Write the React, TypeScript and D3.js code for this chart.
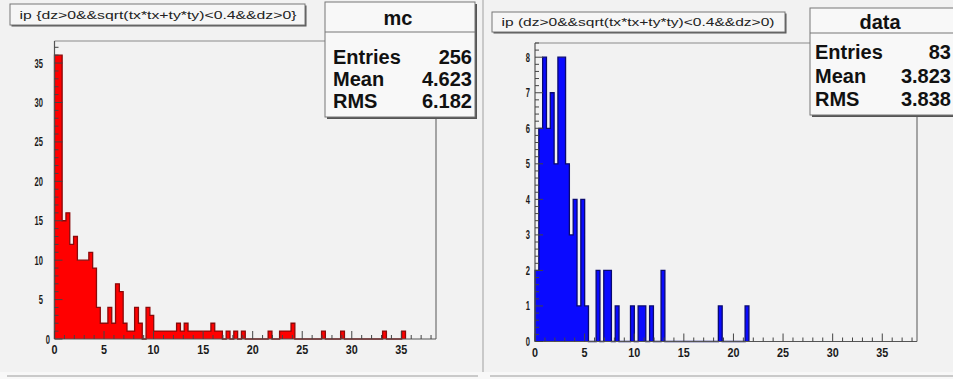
import React from "react";
import * as d3 from "d3";

// ---------- data ----------
const X_DOMAIN: [number, number] = [0, 38.5];
const N_BINS = 100;

// bin contents (bins of width 0.385, starting at 0)
const MC_COUNTS = [
  36, 36, 15, 16, 12, 13, 10, 10, 10, 11,
  9, 4, 2, 2, 4, 2, 7, 6, 2, 1,
  1, 4, 2, 0, 4, 3, 1, 1, 1, 1,
  1, 1, 2, 1, 2, 1, 1, 1, 1, 1,
  1, 2, 1, 1, 0, 1, 0, 1, 0, 1,
  0, 0, 0, 0, 0, 0, 1, 0, 0, 1,
  1, 1, 2, 0, 0, 0, 0, 0, 0, 0,
  1, 0, 0, 0, 0, 1, 0, 0, 0, 0,
  0, 0, 0, 0, 0, 0, 1, 0, 0, 0,
  0, 1,
];
const DATA_COUNTS = [
  2, 6, 8, 6, 7, 5, 8, 8, 5, 3,
  4, 1, 4, 1, 0, 0, 2, 0, 2, 2,
  0, 1, 0, 0, 0, 1, 0, 1, 1, 0,
  1, 0, 0, 2, 0, 0, 0, 0, 0, 0,
  0, 0, 0, 0, 0, 0, 0, 0, 1, 0,
  0, 0, 0, 0, 0, 1,
];

const MC_Y_MAX = 37.8;
const DATA_Y_MAX = 8.4;
const X_TICK_VALUES = [0, 5, 10, 15, 20, 25, 30, 35];
const MC_Y_TICK_VALUES = [0, 5, 10, 15, 20, 25, 30, 35];
const DATA_Y_TICK_VALUES = [0, 1, 2, 3, 4, 5, 6, 7, 8];

const MC_TITLE = "ip {dz>0&&sqrt(tx*tx+ty*ty)<0.4&&dz>0}";
const DATA_TITLE = "ip (dz>0&&sqrt(tx*tx+ty*ty)<0.4&&dz>0)";
const MC_STATS_NAME = "mc";
const DATA_STATS_NAME = "data";
const STAT_LABELS = ["Entries", "Mean", "RMS"];
const MC_STAT_VALUES = ["256", "4.623", "6.182"];
const DATA_STAT_VALUES = ["83", "3.823", "3.838"];

// ---------- layout ----------
const FONT = "'Liberation Sans', Arial, Helvetica, sans-serif";
const BG = "#f2f2f2";

type Cfg = {
  x0: number; x1: number; yt: number; yb: number;
  fill: string; line: string;
  yMinor: number;
  yLabelRight: number; yZeroLabelRight: number;
  titleBox: { x: number; y: number; w: number; h: number; tx: number; ty: number; tl: number };
  statsBox: { x: number; y: number; w: number; h: number; sep: number; titleX: number; titleY: number; rows: number[]; lx: number; vx: number };
};

const LEFT_CFG: Cfg = {
  x0: 54.5, x1: 436, yt: 41, yb: 339,
  fill: "#ff0000", line: "#8a0a0a",
  yMinor: 1,
  yLabelRight: 43, yZeroLabelRight: 50,
  titleBox: { x: 10, y: 4, w: 295, h: 21, tx: 158, ty: 15, tl: 277 },
  statsBox: { x: 325, y: 2, w: 150, h: 115, sep: 32, titleX: 398, titleY: 18, rows: [57, 79, 101], lx: 333, vx: 472 },
};

const RIGHT_CFG: Cfg = {
  x0: 535, x1: 917, yt: 43, yb: 341.5,
  fill: "#0a0aff", line: "#0a0a70",
  yMinor: 0.2,
  yLabelRight: 530, yZeroLabelRight: 530,
  titleBox: { x: 492, y: 12, w: 293, h: 20, tx: 638, ty: 22, tl: 273 },
  statsBox: { x: 810, y: 8, w: 150, h: 107, sep: 33, titleX: 880, titleY: 22, rows: [52, 76, 99], lx: 815, vx: 951 },
};

function Panel({ cfg, counts, yMax, yTicks, title, statsName, statValues }: {
  cfg: Cfg; counts: number[]; yMax: number; yTicks: number[]; title: string; statsName: string; statValues: string[];
}) {
  const x = d3.scaleLinear().domain(X_DOMAIN).range([cfg.x0, cfg.x1]);
  const y = d3.scaleLinear().domain([0, yMax]).range([cfg.yb, cfg.yt]);
  const bw = (X_DOMAIN[1] - X_DOMAIN[0]) / N_BINS;

  const outlinePts: [number, number][] = [[x(0), y(0)]];
  counts.forEach((c, i) => {
    outlinePts.push([x(i * bw), y(c)]);
    outlinePts.push([x((i + 1) * bw), y(c)]);
  });
  outlinePts.push([x(counts.length * bw), y(0)]);
  const outline = d3.line()(outlinePts) || "";

  const xMinor = d3.range(0, X_DOMAIN[1] + 1e-9, 1);
  const yMinor = d3.range(0, yMax + 1e-9, cfg.yMinor);
  const isMajorX = (v: number) => X_TICK_VALUES.some((t) => Math.abs(t - v) < 1e-6);
  const isMajorY = (v: number) => yTicks.some((t) => Math.abs(t - v) < 1e-6);

  const tb = cfg.titleBox;
  const sb = cfg.statsBox;

  return (
    <g>
      {/* frame top & right */}
      <line x1={cfg.x0} x2={cfg.x1} y1={cfg.yt} y2={cfg.yt} stroke="#8a8a8a" strokeWidth={1.2} />
      <line x1={cfg.x1} x2={cfg.x1} y1={cfg.yt} y2={cfg.yb} stroke="#8a8a8a" strokeWidth={1.5} />

      {/* histogram fill + outline */}
      <path d={outline + "Z"} fill={cfg.fill} stroke="none" />
      <path d={outline} fill="none" stroke={cfg.line} strokeWidth={1.3} />

      {/* axes */}
      <line x1={cfg.x0} x2={cfg.x1} y1={cfg.yb} y2={cfg.yb} stroke="#555" strokeWidth={1.2} />
      <line x1={cfg.x0} x2={cfg.x0} y1={cfg.yt} y2={cfg.yb} stroke="#555" strokeWidth={1.2} />
      {xMinor.map((v, i) => (
        <line key={"xt" + i} x1={x(v)} x2={x(v)} y1={cfg.yb} y2={cfg.yb - (isMajorX(v) ? 8 : 4)} stroke="#444" strokeWidth={1} />
      ))}
      {yMinor.map((v, i) => (
        <line key={"yt" + i} x1={cfg.x0} x2={cfg.x0 + (isMajorY(v) ? 8 : 4)} y1={y(v)} y2={y(v)} stroke="#444" strokeWidth={1} />
      ))}
      {X_TICK_VALUES.map((v) => (
        <text key={"xl" + v} x={x(v)} y={cfg.yb + 15} textAnchor="middle" fontFamily={FONT} fontWeight="bold" fontSize={12.5} fill="#1a1a1a"
          textLength={String(v).length * 6} lengthAdjust="spacingAndGlyphs">{v}</text>
      ))}
      {yTicks.map((v) => (
        <text key={"yl" + v} x={v === 0 ? cfg.yZeroLabelRight : cfg.yLabelRight} y={y(v) + 4.5} textAnchor="end" fontFamily={FONT} fontWeight="bold" fontSize={12.5} fill="#1a1a1a"
          textLength={String(v).length * 4.2} lengthAdjust="spacingAndGlyphs">{v}</text>
      ))}

      {/* title box */}
      <rect x={tb.x + 1.5} y={tb.y + 1.5} width={tb.w} height={tb.h} fill="#555" />
      <rect x={tb.x} y={tb.y} width={tb.w} height={tb.h} fill="#f6f6f6" stroke="#777" strokeWidth={1} />
      <text x={tb.tx} y={tb.ty + 4} textAnchor="middle" fontFamily={FONT} fontSize={11.5} fill="#222"
        textLength={tb.tl} lengthAdjust="spacingAndGlyphs">{title}</text>

      {/* stats box */}
      <rect x={sb.x + 2} y={sb.y + 2} width={sb.w} height={sb.h} fill="#555" />
      <rect x={sb.x} y={sb.y} width={sb.w} height={sb.h} fill="#f8f8f8" stroke="#777" strokeWidth={1} />
      <line x1={sb.x} x2={sb.x + sb.w} y1={sb.sep} y2={sb.sep} stroke="#777" strokeWidth={1} />
      <text x={sb.titleX} y={sb.titleY + 7} textAnchor="middle" fontFamily={FONT} fontWeight="bold" fontSize={20} fill="#111">{statsName}</text>
      {STAT_LABELS.map((l, i) => (
        <g key={l}>
          <text x={sb.lx} y={sb.rows[i] + 7} fontFamily={FONT} fontWeight="bold" fontSize={20} fill="#111">{l}</text>
          <text x={sb.vx} y={sb.rows[i] + 7} textAnchor="end" fontFamily={FONT} fontWeight="bold" fontSize={20} fill="#111">{statValues[i]}</text>
        </g>
      ))}
    </g>
  );
}

export default function App() {
  return (
    <svg width={953} height={379} style={{ position: "absolute", left: 0, top: 0, display: "block" }}>
      <rect x={0} y={0} width={953} height={379} fill={BG} />
      <rect x={0} y={372} width={953} height={7} fill="#f8f8f8" />
      <line x1={7} x2={478} y1={376} y2={376} stroke="#bbb" strokeWidth={1.5} />
      <line x1={490} x2={953} y1={376} y2={376} stroke="#bbb" strokeWidth={1.5} />
      <line x1={483} x2={483} y1={0} y2={372} stroke="#bbb" strokeWidth={1.5} />
      <Panel cfg={LEFT_CFG} counts={MC_COUNTS} yMax={MC_Y_MAX} yTicks={MC_Y_TICK_VALUES} title={MC_TITLE}
        statsName={MC_STATS_NAME} statValues={MC_STAT_VALUES} />
      <Panel cfg={RIGHT_CFG} counts={DATA_COUNTS} yMax={DATA_Y_MAX} yTicks={DATA_Y_TICK_VALUES} title={DATA_TITLE}
        statsName={DATA_STATS_NAME} statValues={DATA_STAT_VALUES} />
    </svg>
  );
}
